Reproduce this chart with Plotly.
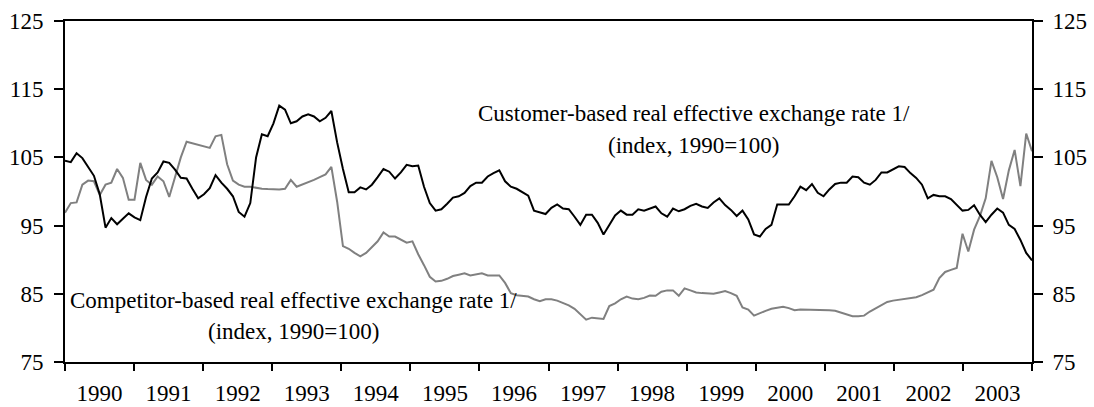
import plotly.graph_objects as go

# Monthly observations, January 1990 - December 2003
months = list(range(168))

customer_reer = [
    104.5, 104.3, 105.6, 104.9, 103.6, 102.3, 99.6, 94.7, 96.1, 95.2, 96.0, 96.8,
    96.2, 95.8, 99.2, 101.9, 102.8, 104.4, 104.2, 103.2, 102.0, 101.9, 100.4, 99.0,
    99.6, 100.5, 102.4, 101.3, 100.4, 99.3, 97.0, 96.3, 98.3, 105.0, 108.4, 108.1,
    110.0, 112.6, 112.0, 110.0, 110.3, 111.0, 111.3, 111.0, 110.3, 110.8, 111.8, 107.2,
    103.3, 99.9, 99.9, 100.6, 100.3, 101.0, 102.1, 103.3, 102.9, 101.9, 102.8, 103.9,
    103.7, 103.8, 100.7, 98.3, 97.2, 97.4, 98.2, 99.1, 99.3, 99.8, 100.8, 101.3,
    101.3, 102.2, 102.7, 103.1, 101.5, 100.7, 100.4, 99.9, 99.4, 97.2, 96.9, 96.7,
    97.6, 98.1, 97.5, 97.4, 96.3, 95.1, 96.6, 96.6, 95.4, 93.7, 95.1, 96.5,
    97.2, 96.6, 96.6, 97.4, 97.2, 97.5, 97.8, 96.8, 96.3, 97.5, 97.1, 97.4,
    97.9, 98.2, 97.8, 97.6, 98.4, 99.0, 98.0, 97.3, 96.4, 97.2, 95.9, 93.7,
    93.4, 94.5, 95.1, 98.1, 98.1, 98.1, 99.3, 100.7, 100.2, 101.1, 99.8, 99.3,
    100.3, 101.1, 101.3, 101.3, 102.2, 102.1, 101.3, 101.0, 101.7, 102.8, 102.8, 103.3,
    103.7, 103.6, 102.7, 102.0, 101.0, 99.0, 99.5, 99.3, 99.3, 98.9, 98.0, 97.2,
    97.3, 98.0, 96.6, 95.5, 96.6, 97.5, 96.9, 95.1, 94.5, 92.9, 91.0, 89.9,
]

competitor_reer = [
    96.9, 98.3, 98.4, 101.0, 101.6, 101.5, 99.5, 101.0, 101.3, 103.3, 102.0, 98.8,
    98.8, 104.2, 101.7, 101.0, 102.2, 101.5, 99.2, 102.0, 105.0, 107.3, 107.1, 106.9,
    106.7, 106.4, 108.1, 108.3, 104.0, 101.6, 101.0, 100.7, 100.7, 100.5, 100.4, 100.35,
    100.3, 100.3, 100.4, 101.7, 100.7, 101.0, 101.3, 101.7, 102.1, 102.5, 103.6, 98.5,
    92.0, 91.6, 91.0, 90.5, 91.0, 91.8, 92.7, 94.0, 93.4, 93.4, 92.9, 92.5,
    92.7, 90.8, 89.2, 87.5, 86.8, 86.9, 87.2, 87.6, 87.8, 88.0, 87.7, 87.8,
    88.0, 87.7, 87.7, 87.7, 86.6, 85.1, 84.8, 84.7, 84.6, 84.2, 83.9, 84.2,
    84.2, 84.0, 83.7, 83.3, 82.8, 82.0, 81.2, 81.5, 81.4, 81.3, 83.2, 83.6,
    84.2, 84.6, 84.3, 84.2, 84.4, 84.75, 84.7, 85.3, 85.5, 85.5, 84.7, 85.8,
    85.5, 85.2, 85.1, 85.0, 85.0, 85.2, 85.4, 85.1, 84.7, 83.0, 82.7, 81.8,
    82.2, 82.5, 82.8, 83.0, 83.1, 82.9, 82.6, 82.7, 82.7, 82.7, 82.7, 82.6,
    82.6, 82.5, 82.2, 81.9, 81.7, 81.7, 81.8, 82.4, 82.9, 83.3, 83.8, 84.0,
    84.1, 84.3, 84.4, 84.5, 84.8, 85.2, 85.6, 87.3, 88.2, 88.5, 88.8, 93.8,
    91.2, 94.4, 96.4, 99.0, 104.5, 102.1, 98.9, 103.1, 106.1, 100.8, 108.5, 105.9,
]

year_labels = [str(y) for y in range(1990, 2004)]
y_ticks = [75, 85, 95, 105, 115, 125]

n_years = len(year_labels)
span = months[-1]
year_edges = [k * span / n_years for k in range(n_years + 1)]
year_centers = [(k + 0.5) * span / n_years for k in range(n_years)]

FONT = "Liberation Serif, Times New Roman, serif"

fig = go.Figure()
fig.add_trace(go.Scatter(
    x=months, y=competitor_reer, mode="lines",
    line=dict(color="#808080", width=2), yaxis="y",
    name="Competitor-based", showlegend=False, hoverinfo="skip",
))
fig.add_trace(go.Scatter(
    x=months, y=customer_reer, mode="lines",
    line=dict(color="#000000", width=2), yaxis="y2",
    name="Customer-based", showlegend=False, hoverinfo="skip",
))

ann_font = dict(family=FONT, size=23, color="black")
cust_x = 108.6
comp_x = 39.5
fig.add_annotation(x=cust_x, y=111.5, text="Customer-based real effective exchange rate 1/",
                   showarrow=False, xanchor="center", yanchor="middle", font=ann_font)
fig.add_annotation(x=cust_x, y=106.8, text="(index, 1990=100)",
                   showarrow=False, xanchor="center", yanchor="middle", font=ann_font)
fig.add_annotation(x=comp_x, y=84.05, text="Competitor-based real effective exchange rate 1/",
                   showarrow=False, xanchor="center", yanchor="middle", font=ann_font)
fig.add_annotation(x=comp_x, y=79.5, text="(index, 1990=100)",
                   showarrow=False, xanchor="center", yanchor="middle", font=ann_font)

tick_font = dict(family=FONT, size=23, color="black")
clear = "rgba(0,0,0,0)"

def y_axis(side, push):
    d = dict(
        range=[75, 125], showgrid=False, zeroline=False, automargin=False,
        showline=True, linecolor="black", linewidth=2,
        tickmode="array", tickvals=y_ticks,
        ticks="outside", ticklen=push, tickwidth=2, tickcolor=clear,
        tickfont=tick_font,
        minor=dict(tickmode="array", tickvals=y_ticks, ticks="outside",
                   ticklen=9, tickwidth=2, tickcolor="black", showgrid=False),
    )
    if side == "right":
        d.update(overlaying="y", side="right")
    return d

fig.update_layout(
    width=1094, height=407,
    margin=dict(l=65, r=62, t=21, b=45, autoexpand=False),
    paper_bgcolor="white", plot_bgcolor="white",
    showlegend=False,
    xaxis=dict(
        range=[0, span], showgrid=False, zeroline=False, automargin=False,
        showline=True, linecolor="black", linewidth=2, mirror=True,
        tickmode="array", tickvals=year_centers, ticktext=year_labels,
        ticks="outside", ticklen=9, tickcolor=clear,
        tickfont=tick_font,
        minor=dict(tickmode="array", tickvals=year_edges, ticks="outside",
                   ticklen=7, tickwidth=2, tickcolor="black", showgrid=False),
    ),
    yaxis=y_axis("left", 15),
    yaxis2=y_axis("right", 14),
)

fig.write_html(
    "out.html",
    config={"displayModeBar": False},
    post_script="document.body.style.margin='0';document.body.style.overflow='hidden';",
)
